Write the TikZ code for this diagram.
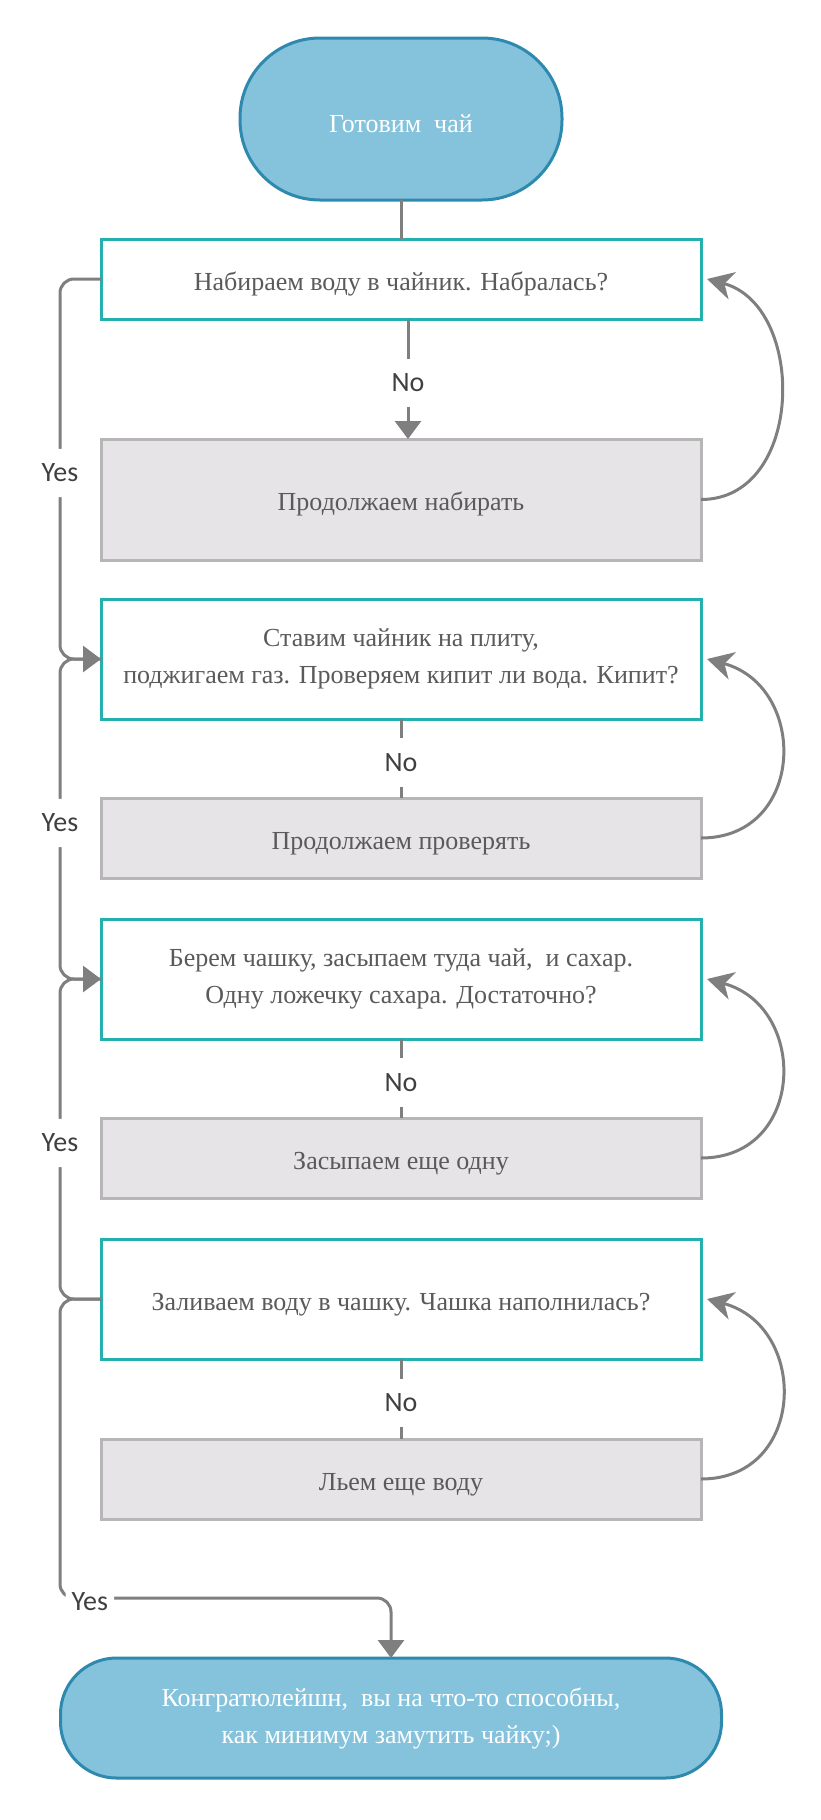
\documentclass[tikz,border=0pt]{standalone}
\usepackage{fontspec}
\setmainfont{Liberation Serif}
\newfontfamily\labelfont{Carlito}
\usepackage{tikz}
\usetikzlibrary{arrows.meta,positioning}
\definecolor{termblue}{RGB}{133,195,220}
\definecolor{termedge}{RGB}{46,137,174}
\definecolor{checkteal}{RGB}{35,176,174}
\definecolor{stepgray}{RGB}{231,228,231}
\definecolor{stepedge}{RGB}{182,182,182}
\definecolor{wiregray}{RGB}{127,127,127}
\definecolor{textgray}{RGB}{90,90,90}
\definecolor{labelgray}{RGB}{64,64,64}
\tikzset{
  flowbox/.style={
    draw,line width=3pt,align=center,inner sep=0pt,outer sep=0pt,
    minimum width=600pt,font=\fontsize{26}{37}\selectfont,
    execute at begin node={\rule{0pt}{28pt}}
  },
  termbox/.style={flowbox,draw=termedge,fill=termblue,text=white},
  checkbox/.style={flowbox,draw=checkteal,fill=white,text=textgray,minimum height=120pt},
  stepbox/.style={flowbox,draw=stepedge,fill=stepgray,text=textgray,minimum height=80pt},
  wire/.style={draw=wiregray,line width=3pt},
  tip/.style={-{Triangle[length=18pt,width=26pt]}},
  yesline/.style={wire,rounded corners=14pt},
  loopline/.style={wire,-{Stealth[length=26pt,width=28pt,inset=8pt]}},
  branchlabel/.style={
    fill=white,text=labelgray,inner xsep=6pt,inner ysep=15pt,yshift=-4pt,
    font=\labelfont\fontsize{28}{30}\selectfont
  }
}

\begin{document}
\begin{tikzpicture}[x=1pt,y=-1pt,node distance=39pt]
  \useasboundingbox (0,0) rectangle (821,1820);
  \node[termbox,minimum width=322pt,minimum height=162pt,rounded corners=80pt] (start) at (401,119) {Готовим\ \ чай};
  \node[checkbox,minimum height=80pt,below=of start] (fill) {Набираем воду в чайник. Набралась?};
  \node[stepbox,minimum height=121pt,below=120pt of fill] (refill) {Продолжаем набирать};
  \node[checkbox,below=of refill] (boil) {Ставим чайник на плиту,\\
    поджигаем газ. Проверяем кипит ли вода. Кипит?};
  \node[stepbox,below=79pt of boil] (reboil) {Продолжаем проверять};
  \node[checkbox,below=41pt of reboil] (cup) {Берем чашку, засыпаем туда чай,\ \ и сахар.\\
    Одну ложечку сахара. Достаточно?};
  \node[stepbox,below=79pt of cup] (recup) {Засыпаем еще одну};
  \node[checkbox,below=41pt of recup] (pour) {Заливаем воду в чашку. Чашка наполнилась?};
  \node[stepbox,below=80pt of pour] (repour) {Льем еще воду};
  \node[termbox,minimum width=661pt,minimum height=120pt,rounded corners=56pt,below=139pt of repour,xshift=-10pt] (done) {Конгратюлейшн,\ \ вы на что-то способны,\\
    как минимум замутить чайку;)};

  \draw[wire] (start) -- (fill);
  \draw[wire,tip] ([xshift=7pt]fill.south) -- node[branchlabel] {No} ([xshift=7pt]refill.north);
  \draw[wire] (boil) -- node[branchlabel] {No} (reboil);
  \draw[wire] (cup) -- node[branchlabel] {No} (recup);
  \draw[wire] (pour) -- node[branchlabel] {No} (repour);

  \draw[loopline] (refill.east) to[out=0,in=-15,looseness=1.2] ([xshift=6pt]fill.east);
  \draw[loopline] (reboil.east) to[out=0,in=-15,looseness=1.5] ([xshift=6pt]boil.east);
  \draw[loopline] (recup.east) to[out=0,in=-15,looseness=1.5] ([xshift=6pt]cup.east);
  \draw[loopline] (repour.east) to[out=0,in=-15,looseness=1.5] ([xshift=6pt]pour.east);

  \draw[yesline,tip] (fill.west) -- ++(-41,0) |- node[branchlabel,pos=0.25] {Yes} (boil.west);
  \draw[yesline,tip] (boil.west) -- ++(-41,0) |- node[branchlabel,pos=0.25] {Yes} (cup.west);
  \draw[yesline] (cup.west) -- ++(-41,0) |- node[branchlabel,pos=0.25] {Yes} (pour.west);
  \draw[yesline,tip] (pour.west) -- ++(-41,0) -- ++(0,299) -| node[branchlabel,pos=0.045] {Yes} (done.north);
\end{tikzpicture}
\end{document}
